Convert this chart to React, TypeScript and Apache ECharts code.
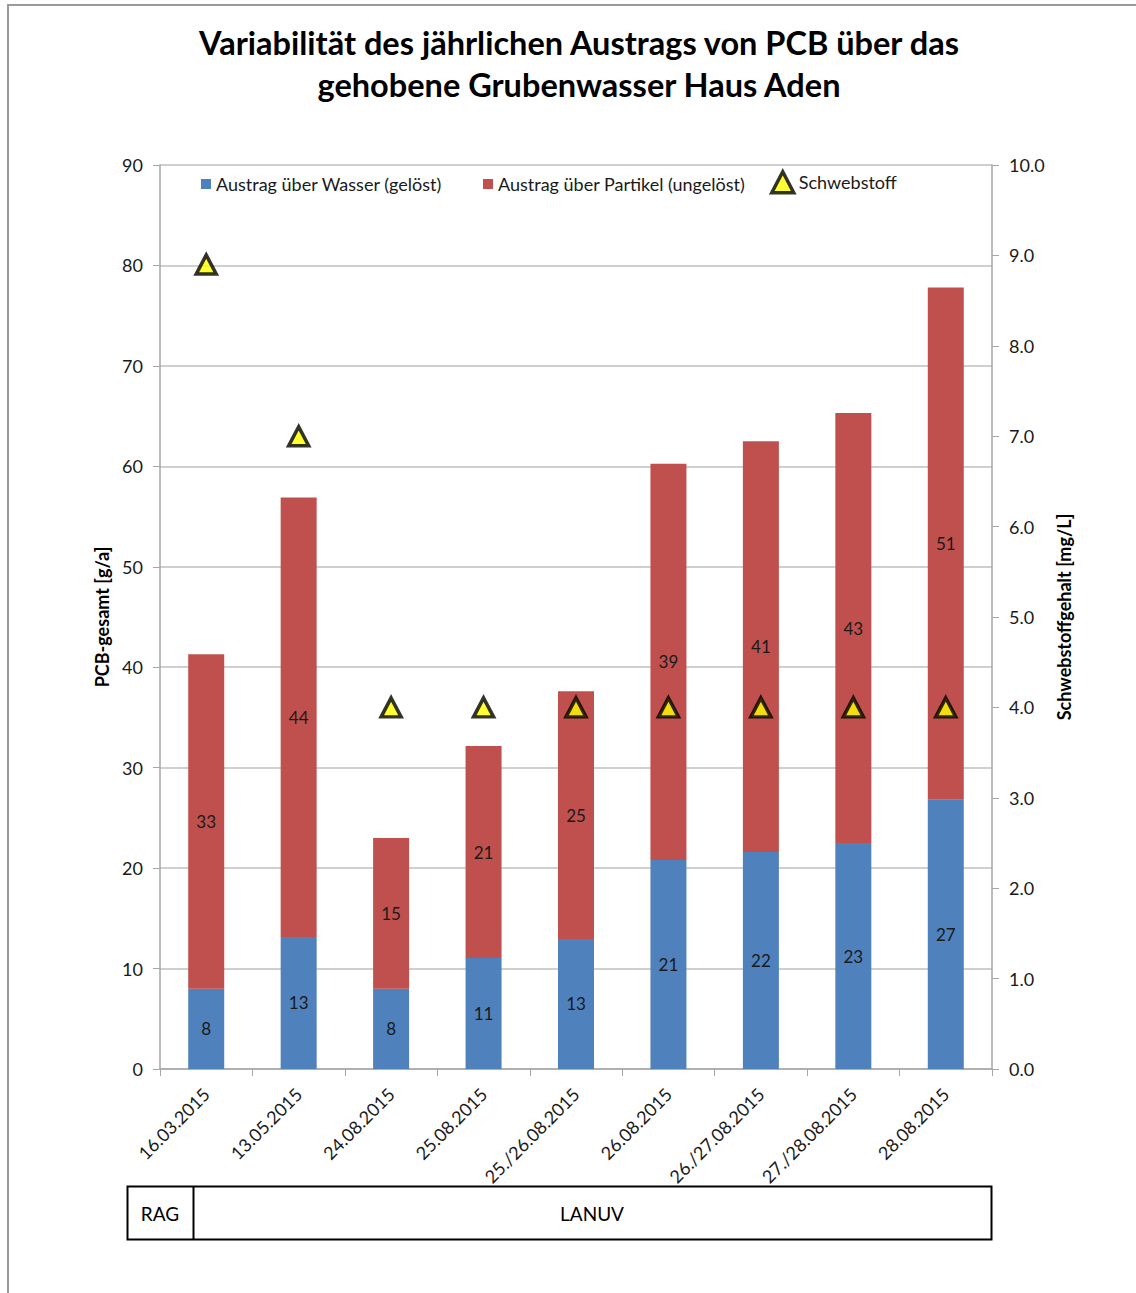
import React, { useEffect, useRef } from "react";
import * as echarts from "echarts";

const categories = [
  "16.03.2015",
  "13.05.2015",
  "24.08.2015",
  "25.08.2015",
  "25./26.08.2015",
  "26.08.2015",
  "26./27.08.2015",
  "27./28.08.2015",
  "28.08.2015",
];
const geloest = [8.0, 13.15, 8.0, 11.05, 12.95, 20.8, 21.6, 22.5, 26.8];
const ungeloest = [33.3, 43.75, 15.0, 21.1, 24.65, 39.45, 40.9, 42.8, 51.0];
const schwebstoff = [8.9, 7.0, 4.0, 4.0, 4.0, 4.0, 4.0, 4.0, 4.0];
const leftTicks = { min: 0, max: 90, interval: 10 };
const rightTicks = { min: 0, max: 10, interval: 1 };

const titleText =
  "Variabilität des jährlichen Austrags von PCB über das\ngehobene Grubenwasser Haus Aden";
const nameWasser = "Austrag über Wasser (gelöst)";
const namePartikel = "Austrag über Partikel (ungelöst)";
const nameSchweb = "Schwebstoff";

const FONT = "Lato, 'Open Sans', sans-serif";

export default function App() {
  const ref = useRef<HTMLDivElement>(null);
  useEffect(() => {
    if (!ref.current) return;
    const chart = echarts.init(ref.current, undefined, { renderer: "svg" });
    const labelStyle = {
      show: true,
      position: "inside",
      color: "#1a1a1a",
      fontSize: 17,
      fontFamily: FONT,
      formatter: (p: any) => String(Math.round(p.value)),
    };
    const legendText = { fontFamily: FONT, fontSize: 18, color: "#1a1a1a" };
    chart.setOption({
      animation: false,
      backgroundColor: "#ffffff",
      textStyle: { fontFamily: FONT },
      title: {
        text: titleText,
        left: 574,
        top: 16,
        textAlign: "center",
        textStyle: {
          fontFamily: FONT,
          fontSize: 32.5,
          fontWeight: "bold",
          color: "#000",
          lineHeight: 42,
        },
      },
      legend: [
        {
          left: 196,
          top: 170,
          itemWidth: 10,
          itemHeight: 10,
          icon: "rect",
          data: [nameWasser],
          textStyle: legendText,
        },
        {
          left: 478,
          top: 170,
          itemWidth: 10,
          itemHeight: 10,
          icon: "rect",
          data: [namePartikel],
          textStyle: legendText,
        },
        {
          left: 765,
          top: 165,
          itemWidth: 22,
          itemHeight: 21,
          itemGap: 5,
          data: [
            {
              name: nameSchweb,
              icon: "triangle",
              itemStyle: { color: "#ffff00", borderColor: "#000", borderWidth: 3.5 },
            },
          ],
          textStyle: legendText,
        },
      ],
      grid: { left: 160, right: 144, top: 165, bottom: 224, containLabel: false },
      xAxis: {
        type: "category",
        data: categories,
        axisLine: { lineStyle: { color: "#a6a6a6", width: 1.5 } },
        axisTick: { show: true, length: 7, lineStyle: { color: "#a6a6a6" } },
        axisLabel: {
          rotate: 45,
          interval: 0,
          fontSize: 18,
          fontFamily: FONT,
          color: "#1a1a1a",
          margin: 22,
        },
      },
      yAxis: [
        {
          type: "value",
          ...leftTicks,
          name: "PCB-gesamt [g/a]",
          nameLocation: "middle",
          nameGap: 45,
          nameRotate: 90,
          nameTextStyle: {
            fontFamily: FONT,
            fontSize: 18,
            fontWeight: "bold",
            color: "#000",
          },
          axisLine: { show: true, lineStyle: { color: "#a6a6a6", width: 1.5 } },
          axisTick: { show: true, length: 7, lineStyle: { color: "#a6a6a6" } },
          axisLabel: { fontSize: 18, fontFamily: FONT, color: "#1a1a1a", margin: 17 },
          splitLine: { lineStyle: { color: "#bfbfbf", width: 1.5 } },
        },
        {
          type: "value",
          ...rightTicks,
          position: "right",
          name: "Schwebstoffgehalt [mg/L]",
          nameLocation: "middle",
          nameGap: 62,
          nameRotate: 90,
          nameTextStyle: {
            fontFamily: FONT,
            fontSize: 18,
            fontWeight: "bold",
            color: "#000",
          },
          axisLine: { show: true, lineStyle: { color: "#a6a6a6", width: 1.5 } },
          axisTick: { show: true, length: 7, lineStyle: { color: "#a6a6a6" } },
          axisLabel: {
            fontSize: 18,
            fontFamily: FONT,
            color: "#1a1a1a",
            margin: 17,
            formatter: (v: number) => v.toFixed(1),
          },
          splitLine: { show: false },
        },
      ],
      series: [
        {
          name: nameWasser,
          type: "bar",
          stack: "pcb",
          barWidth: 36,
          data: geloest,
          itemStyle: { color: "#4f81bd" },
          label: labelStyle,
        },
        {
          name: namePartikel,
          type: "bar",
          stack: "pcb",
          barWidth: 36,
          data: ungeloest,
          itemStyle: { color: "#c0504d" },
          label: labelStyle,
        },
        {
          name: nameSchweb,
          type: "scatter",
          yAxisIndex: 1,
          data: schwebstoff,
          symbol: "triangle",
          symbolSize: [20, 19],
          itemStyle: { color: "#ffff00", borderColor: "#000", borderWidth: 3.5 },
          z: 5,
        },
      ],
      graphic: [
        {
          type: "rect",
          shape: { x: 8, y: 5, width: 1200, height: 1400 },
          style: { fill: "none", stroke: "#9a9a9a", lineWidth: 2 },
          silent: true,
        },
        {
          type: "rect",
          shape: { x: 127.5, y: 1186.5, width: 864, height: 53 },
          style: { fill: "none", stroke: "#000", lineWidth: 2 },
        },
        {
          type: "line",
          shape: { x1: 193.5, y1: 1186.5, x2: 193.5, y2: 1239.5 },
          style: { stroke: "#000", lineWidth: 2 },
        },
        {
          type: "text",
          x: 160,
          y: 1213,
          style: {
            text: "RAG",
            fontFamily: FONT,
            fontSize: 19,
            fill: "#000",
            align: "center",
            verticalAlign: "middle",
          },
        },
        {
          type: "text",
          x: 592,
          y: 1213,
          style: {
            text: "LANUV",
            fontFamily: FONT,
            fontSize: 19,
            fill: "#000",
            align: "center",
            verticalAlign: "middle",
          },
        },
      ],
    });
    return () => chart.dispose();
  }, []);
  return (
    <div
      ref={ref}
      style={{ position: "absolute", left: 0, top: 0, width: 1136, height: 1293 }}
    />
  );
}
